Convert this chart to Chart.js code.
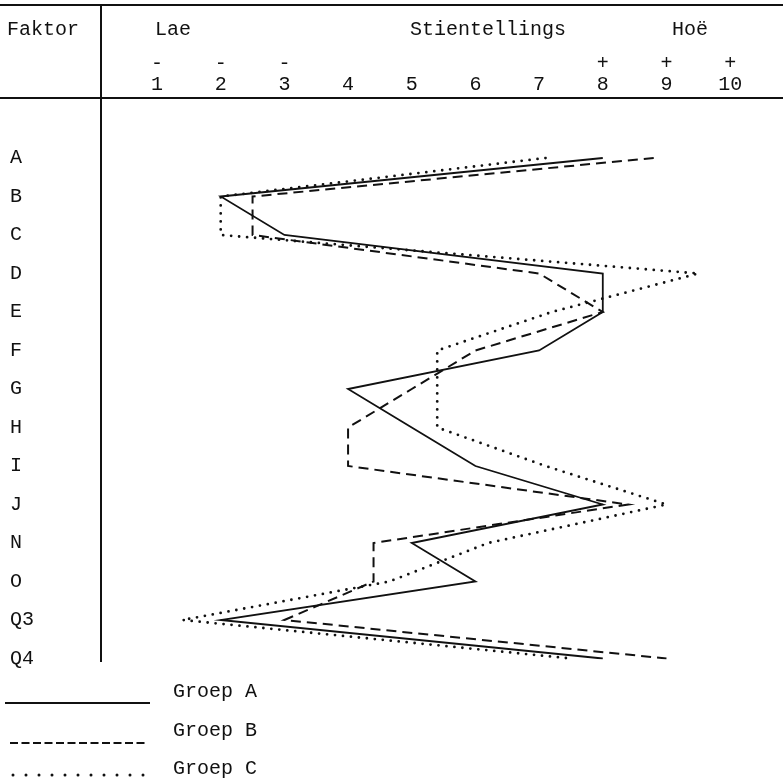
<!DOCTYPE html>
<html>
<head>
<meta charset="utf-8">
<script src="https://cdn.jsdelivr.net/npm/chart.js@4.4.1/dist/chart.umd.min.js"></script>
<style>
  html, body { margin: 0; padding: 0; background: #fff; }
  #wrap { position: relative; width: 783px; height: 782px; font-family: "Liberation Mono", "DejaVu Sans Mono", monospace; color: #111; }
  #wrap canvas { position: absolute; left: 0; top: 0; }
  .t { position: absolute; font-size: 20px; line-height: 20px; white-space: pre; }
  .leg { position: absolute; left: 0; }
</style>
</head>
<body>
<div id="wrap">
  <canvas id="cProfile" width="783" height="782"></canvas>
  <div class="t" style="left:7px;top:20px">Faktor</div>
  <div class="t" style="left:155px;top:20px">Lae</div>
  <div class="t" style="left:410px;top:20px">Stientellings</div>
  <div class="t" style="left:672px;top:20px">Hoë</div>

  <svg class="leg" width="160" height="782" style="top:0">
    <line x1="5" y1="703" x2="150" y2="703" stroke="#111" stroke-width="2"/>
    <line x1="10" y1="743" x2="146" y2="743" stroke="#111" stroke-width="2" stroke-dasharray="8 3.5"/>
    <line x1="13" y1="775" x2="146" y2="775" stroke="#111" stroke-width="3" stroke-linecap="round" stroke-dasharray="0 13"/>
  </svg>
  <div class="t" style="left:173px;top:682px">Groep A</div>
  <div class="t" style="left:173px;top:721px">Groep B</div>
  <div class="t" style="left:173px;top:759px">Groep C</div>
</div>
<script>
  // factors down the side, stanines across the top
  const factors = ['A', 'B', 'C', 'D', 'E', 'F', 'G', 'H', 'I', 'J', 'N', 'O', 'Q3', 'Q4'];
  const stanines = [1, 2, 3, 4, 5, 6, 7, 8, 9, 10];
  const stanineSigns = ['-', '-', '-', '', '', '', '', '+', '+', '+'];

  // mean stanine per factor
  const groepA = [8, 2, 3, 8, 8, 7, 4, 5, 6, 8, 5, 6, 2, 8];
  const groepB = [8.8, 2.5, 2.5, 7, 8, 6, 5, 4, 4, 8.4, 4.4, 4.4, 3, 9];
  const groepC = [7.1, 2, 2, 9.5, 7.2, 5.4, 5.4, 5.4, 7.1, 9, 6.2, 4.65, 1.4, 7.5];

  const ink = '#111';
  const mono = { family: '"Liberation Mono", "DejaVu Sans Mono", monospace', size: 20 };

  // table rules: header box + the Faktor column divider
  const rules = {
    id: 'rules',
    beforeDraw(chart) {
      const { ctx } = chart;
      ctx.save();
      ctx.strokeStyle = ink;
      ctx.lineWidth = 2;
      ctx.beginPath();
      ctx.moveTo(0, 5); ctx.lineTo(783, 5);
      ctx.moveTo(0, 98); ctx.lineTo(783, 98);
      ctx.moveTo(101, 5); ctx.lineTo(101, 662);
      ctx.stroke();
      ctx.restore();
    }
  };

  const ds = (label, data, extra) => Object.assign({
    label, data, borderColor: ink, backgroundColor: ink, borderWidth: 1.8,
    pointRadius: 0, tension: 0, fill: false, borderJoinStyle: 'miter'
  }, extra);

  new Chart(document.getElementById('cProfile'), {
    type: 'line',
    data: {
      labels: factors,
      datasets: [
        ds('Groep A', groepA, {}),
        ds('Groep B', groepB, { borderDash: [10, 6], borderWidth: 2 }),
        ds('Groep C', groepC, { borderDash: [0, 8], borderCapStyle: 'round', borderWidth: 2.8 })
      ]
    },
    options: {
      indexAxis: 'y',
      responsive: false,
      animation: false,
      devicePixelRatio: 1,
      layout: { autoPadding: false, padding: { left: 10, right: 0, top: 0, bottom: 123.5 } },
      plugins: { legend: { display: false }, tooltip: { enabled: false } },
      scales: {
        x: {
          type: 'linear', position: 'top', min: 0.12, max: 10.83,
          grid: { display: false, drawTicks: false }, border: { display: false },
          afterBuildTicks: s => { s.ticks = stanines.map(v => ({ value: v })); },
          afterFit: s => { s.height = 158; s.paddingLeft = 0; s.paddingRight = 0; },
          ticks: {
            color: ink, font: Object.assign({ lineHeight: 1.05 }, mono), padding: 63, maxRotation: 0, autoSkip: false,
            callback: (v, i) => [stanineSigns[i] || ' ', String(stanines[i])]
          }
        },
        y: {
          type: 'category', offset: false,
          grid: { display: false, drawTicks: false }, border: { display: false },
          afterFit: s => { s.width = 91; s.paddingTop = 0; s.paddingBottom = 0; },
          ticks: { color: ink, font: mono, crossAlign: 'far', padding: 0, autoSkip: false }
        }
      }
    },
    plugins: [rules]
  });
</script>
</body>
</html>
